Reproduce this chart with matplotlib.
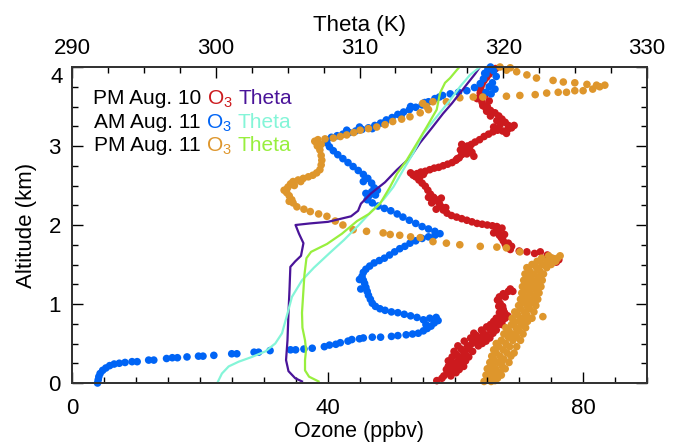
import matplotlib
matplotlib.use("Agg")
import matplotlib.pyplot as plt
from matplotlib.ticker import MultipleLocator, FuncFormatter
from matplotlib.transforms import blended_transform_factory
from matplotlib.offsetbox import TextArea, HPacker, AnnotationBbox

plt.rcParams["font.family"] = ["Liberation Sans", "DejaVu Sans"]
plt.rcParams["mathtext.fontset"] = "custom"
plt.rcParams["mathtext.rm"] = "Liberation Sans"
plt.rcParams["mathtext.it"] = "Liberation Sans"

# ---- ozone profiles (ppbv, km) ----
# PM Aug. 10 ozone (red)
red_pts = [
    (57.1, 0.03), (57.9, 0.06), (58.2, 0.09), (59.3, 0.09), (58.8, 0.13), (60.1, 0.13),
    (59.4, 0.17), (58.6, 0.17), (60.6, 0.17), (58.9, 0.21), (60.2, 0.21), (61.3, 0.21),
    (59.6, 0.25), (61.0, 0.25), (58.9, 0.28), (60.4, 0.28), (61.6, 0.28), (59.5, 0.33),
    (60.9, 0.33), (62.1, 0.33), (60.2, 0.36), (61.6, 0.36), (59.8, 0.40), (61.3, 0.40),
    (62.7, 0.40), (60.9, 0.43), (62.2, 0.43), (60.4, 0.47), (61.9, 0.47), (63.6, 0.47),
    (62.6, 0.50), (64.2, 0.50), (61.4, 0.53), (63.3, 0.53), (64.8, 0.53), (62.4, 0.57),
    (64.0, 0.57), (65.4, 0.57), (63.3, 0.60), (64.9, 0.60), (62.9, 0.63), (64.4, 0.63),
    (65.9, 0.63), (64.1, 0.67), (65.5, 0.67), (66.4, 0.67), (64.9, 0.71), (66.1, 0.71),
    (65.5, 0.74), (66.7, 0.74), (67.3, 0.74), (66.0, 0.78), (67.3, 0.78), (66.4, 0.82),
    (67.8, 0.82), (67.2, 0.85), (68.2, 0.85), (66.9, 0.89), (67.7, 0.89), (67.5, 0.93),
    (66.8, 0.97), (67.4, 0.97), (67.0, 1.01), (66.6, 1.05), (66.9, 1.09), (67.8, 1.09),
    (67.5, 1.13), (68.3, 1.16), (69.0, 1.16), (68.6, 1.19),
    (76.2, 1.56), (75.8, 1.53), (75.3, 1.57), (74.8, 1.59), (74.4, 1.62), (73.3, 1.66), (72.4, 1.64),
    (71.2, 1.66), (70.0, 1.67), (68.6, 1.69), (68.0, 1.72), (68.8, 1.73), (67.8, 1.76), (68.3, 1.77),
    (67.5, 1.80), (67.2, 1.84), (66.9, 1.87), (67.7, 1.88), (66.0, 1.90), (66.7, 1.91), (66.5, 1.95),
    (66.5, 1.98), (67.3, 1.96), (65.8, 1.99), (65.0, 2.00), (64.2, 2.01), (63.4, 2.02), (62.6, 2.04),
    (61.8, 2.06), (61.0, 2.08), (60.2, 2.10), (59.4, 2.12), (58.7, 2.15), (58.1, 2.19), (57.0, 2.20),
    (57.8, 2.23), (57.5, 2.27), (56.3, 2.28), (57.0, 2.31), (57.8, 2.34), (56.6, 2.35), (55.8, 2.35),
    (56.1, 2.39), (56.8, 2.33), (58.5, 2.22), (55.7, 2.44), (55.3, 2.49), (54.8, 2.53), (54.3, 2.57),
    (53.8, 2.61), (54.4, 2.60), (53.4, 2.63), (55.0, 2.64), (54.0, 2.65), (53.0, 2.66), (54.6, 2.67),
    (55.3, 2.68), (56.0, 2.70), (56.7, 2.72), (57.4, 2.73), (58.1, 2.75), (58.8, 2.77), (59.5, 2.79),
    (60.1, 2.82), (60.3, 2.84), (60.6, 2.85), (61.0, 2.89), (61.8, 2.90), (61.3, 2.93), (61.5, 2.97),
    (62.2, 2.97), (61.9, 3.00), (61.0, 3.02), (62.6, 2.92), (62.9, 2.87), (60.8, 2.95), (62.5, 3.02),
    (63.1, 3.05), (63.8, 3.08), (64.5, 3.12), (65.2, 3.15), (68.0, 3.16), (65.9, 3.18), (66.6, 3.20),
    (67.4, 3.19), (68.2, 3.21), (66.0, 3.24), (68.8, 3.23), (69.2, 3.26), (67.0, 3.27), (68.3, 3.26),
    (67.8, 3.30), (66.5, 3.32), (67.3, 3.34), (66.8, 3.38), (65.5, 3.38), (66.2, 3.42), (65.5, 3.45),
    (64.8, 3.48), (64.9, 3.44), (65.0, 3.50), (64.3, 3.51), (64.2, 3.55), (65.3, 3.57), (64.0, 3.59),
    (63.4, 3.60), (63.9, 3.63), (64.6, 3.64), (63.9, 3.67), (63.9, 3.71), (64.0, 3.75), (64.2, 3.79),
    (64.5, 3.83), (64.9, 3.87), (64.8, 3.92), (65.3, 3.91), (65.8, 3.95), (66.3, 3.98),
]

# AM Aug. 11 ozone (blue)
blue_pts = [
    (4.0, 0.00), (4.1, 0.04), (4.2, 0.08), (4.4, 0.12), (4.8, 0.16), (5.3, 0.19), (5.9, 0.22),
    (6.6, 0.24), (7.4, 0.25), (8.3, 0.26), (9.4, 0.27), (10.2, 0.27), (12.0, 0.29), (12.8, 0.29),
    (14.8, 0.31), (15.7, 0.32), (16.5, 0.32), (18.0, 0.33), (19.8, 0.34), (20.5, 0.34), (22.2, 0.35),
    (25.0, 0.37), (25.8, 0.37), (28.5, 0.39), (29.2, 0.39), (31.0, 0.41), (34.2, 0.42), (35.0, 0.42),
    (36.3, 0.43), (37.6, 0.44), (39.5, 0.46), (40.3, 0.48), (41.3, 0.49), (42.0, 0.51), (43.2, 0.53),
    (43.8, 0.55), (45.0, 0.56), (45.6, 0.57), (47.0, 0.58), (48.3, 0.58), (50.0, 0.59), (51.0, 0.60),
    (52.3, 0.61), (53.3, 0.62), (54.2, 0.63), (55.0, 0.66), (55.6, 0.69), (56.2, 0.72), (56.7, 0.76),
    (57.3, 0.79), (57.0, 0.83), (56.0, 0.82), (55.4, 0.74), (55.0, 0.80), (54.0, 0.83), (53.0, 0.85),
    (52.0, 0.87), (51.0, 0.89), (50.0, 0.90), (49.0, 0.92), (48.2, 0.94), (47.5, 0.97), (47.0, 1.01),
    (46.7, 1.06), (46.4, 1.11), (46.2, 1.16), (45.2, 1.19), (46.0, 1.21), (45.8, 1.26), (45.0, 1.31),
    (45.6, 1.30), (45.4, 1.35), (45.6, 1.40), (46.0, 1.44), (46.6, 1.48), (47.3, 1.52), (48.1, 1.55),
    (48.9, 1.58), (49.7, 1.62), (50.5, 1.66), (51.3, 1.70), (52.1, 1.73), (52.9, 1.77), (53.8, 1.80),
    (54.8, 1.83), (55.8, 1.85), (56.8, 1.87), (57.6, 1.89), (56.8, 1.92), (55.8, 1.95), (54.8, 1.98),
    (53.8, 2.02), (52.8, 2.06), (51.8, 2.10), (50.9, 2.14), (49.9, 2.18), (48.9, 2.21), (47.9, 2.24),
    (47.0, 2.28), (46.2, 2.32), (46.5, 2.37), (47.5, 2.38), (46.0, 2.40), (46.9, 2.42), (47.8, 2.44),
    (47.3, 2.47), (46.9, 2.53), (45.6, 2.55), (46.3, 2.59), (45.6, 2.64), (44.8, 2.69), (44.0, 2.74),
    (43.2, 2.79), (42.4, 2.84), (41.6, 2.89), (40.9, 2.94), (40.3, 2.99), (39.9, 3.04), (39.8, 3.08),
    (40.6, 3.11), (41.5, 3.13), (42.4, 3.15), (43.4, 3.17), (43.0, 3.20), (44.4, 3.19), (45.0, 3.24),
    (45.4, 3.21), (46.4, 3.23), (47.0, 3.22), (47.4, 3.26), (48.3, 3.29), (49.0, 3.30), (49.2, 3.33),
    (50.1, 3.36), (51.0, 3.40), (51.5, 3.38), (51.9, 3.43), (52.8, 3.46), (53.0, 3.50), (53.8, 3.49),
    (54.8, 3.52), (55.2, 3.55), (55.8, 3.56), (56.8, 3.60), (57.5, 3.62), (58.0, 3.64), (59.2, 3.66),
    (60.5, 3.68), (61.8, 3.70), (63.0, 3.74), (63.9, 3.79), (64.4, 3.85), (64.8, 3.91), (65.1, 3.97),
    (65.5, 4.00), (65.8, 3.80), (66.2, 3.72), (65.6, 3.66), (64.8, 3.68), (66.4, 3.88), (66.0, 3.95),
    (65.3, 3.75), (64.6, 3.92),
]

# PM Aug. 11 ozone (orange)
orange_pts = [
    (64.5, 0.02), (65.6, 0.02), (66.2, 0.03), (65.1, 0.06), (66.6, 0.06), (64.8, 0.10), (66.0, 0.10),
    (67.2, 0.10), (65.5, 0.14), (66.9, 0.14), (65.0, 0.18), (66.3, 0.18), (67.8, 0.18), (65.8, 0.22),
    (67.3, 0.22), (65.4, 0.26), (66.7, 0.26), (68.4, 0.26), (66.0, 0.30), (67.6, 0.30), (65.7, 0.34),
    (67.0, 0.34), (68.7, 0.34), (66.4, 0.38), (68.1, 0.38), (69.2, 0.38), (66.0, 0.42), (67.5, 0.42),
    (66.8, 0.46), (68.5, 0.46), (69.6, 0.46), (66.4, 0.50), (67.9, 0.50), (67.2, 0.54), (69.0, 0.54),
    (70.2, 0.54), (68.3, 0.58), (69.6, 0.58), (67.6, 0.62), (69.1, 0.62), (70.6, 0.62), (68.4, 0.66),
    (70.0, 0.66), (67.9, 0.70), (69.5, 0.70), (71.0, 0.70), (68.8, 0.74), (70.4, 0.74), (69.2, 0.78),
    (71.3, 0.78), (70.0, 0.78), (68.9, 0.82), (70.6, 0.82), (72.0, 0.82), (73.7, 0.84), (69.8, 0.86),
    (71.2, 0.86), (69.3, 0.90), (70.8, 0.90), (72.3, 0.90), (70.2, 0.94), (71.6, 0.94), (69.9, 0.98),
    (71.2, 0.98), (72.6, 0.98), (70.6, 1.02), (72.0, 1.02), (70.2, 1.06), (71.4, 1.06), (72.9, 1.06),
    (70.8, 1.10), (72.3, 1.10), (70.4, 1.14), (71.7, 1.14), (73.1, 1.14), (71.1, 1.18), (72.6, 1.18),
    (70.5, 1.22), (71.9, 1.22), (73.4, 1.22), (71.3, 1.26), (72.8, 1.26), (70.7, 1.30), (72.1, 1.30),
    (73.6, 1.30), (71.5, 1.34), (73.0, 1.34), (70.9, 1.38), (72.3, 1.38), (73.8, 1.38), (71.6, 1.42),
    (73.2, 1.42), (71.2, 1.46), (72.7, 1.46), (74.3, 1.46), (72.0, 1.50), (73.6, 1.50), (75.0, 1.50),
    (72.8, 1.54), (74.4, 1.54), (75.7, 1.54), (73.5, 1.58), (75.2, 1.58), (76.0, 1.58), (76.4, 1.61),
    (74.6, 1.61),
    (70.1, 1.66), (68.0, 1.71), (66.5, 1.72), (63.9, 1.73), (60.7, 1.75), (58.6, 1.77), (56.5, 1.79),
    (54.5, 1.84), (53.0, 1.85), (51.3, 1.87), (49.8, 1.88), (48.7, 1.90), (46.1, 1.92), (44.0, 1.94),
    (42.4, 2.00), (41.2, 2.05), (39.9, 2.11), (38.6, 2.14), (37.3, 2.17), (36.3, 2.20), (35.2, 2.23),
    (34.6, 2.28), (34.0, 2.30), (34.4, 2.32), (34.0, 2.37), (33.6, 2.41), (33.2, 2.44), (33.6, 2.45),
    (33.8, 2.48), (34.8, 2.50), (34.2, 2.52), (34.6, 2.55), (35.8, 2.55), (35.4, 2.57), (36.2, 2.59),
    (37.0, 2.61), (37.7, 2.63), (38.3, 2.66), (38.8, 2.70), (39.0, 2.76), (39.1, 2.82), (39.0, 2.88),
    (38.8, 2.95), (38.4, 3.00), (39.0, 3.02), (38.3, 3.04), (38.0, 3.06), (38.5, 3.08),
    (39.6, 3.09), (40.9, 3.10), (42.0, 3.12), (43.0, 3.14), (44.1, 3.17), (45.1, 3.20), (46.4, 3.22),
    (47.7, 3.24), (49.0, 3.27), (50.2, 3.31), (51.6, 3.34), (52.9, 3.37), (54.5, 3.42), (55.5, 3.50),
    (54.9, 3.54), (55.8, 3.46), (56.5, 3.56), (58.6, 3.56), (60.7, 3.61), (62.8, 3.62), (64.3, 3.62),
    (68.0, 3.63), (70.1, 3.64), (72.5, 3.65), (74.3, 3.67), (76.1, 3.68), (77.4, 3.68), (78.7, 3.70),
    (80.0, 3.70), (81.5, 3.72), (82.6, 3.75), (83.4, 3.77), (82.1, 3.77), (80.6, 3.78), (78.7, 3.80),
    (76.9, 3.81), (75.3, 3.83), (72.7, 3.86), (71.2, 3.90), (69.6, 3.94), (68.6, 3.99), (68.0, 3.96),
    (67.0, 4.00),
]

# ---- potential temperature profiles (K, km) ----
purple_theta = [306.0, 305.53, 305.06, 304.89, 304.99, 305.06, 305.13, 305.19, 305.53, 305.93,
                306.10, 305.79, 305.55, 306.56, 307.81, 309.41, 309.90, 310.10, 310.80, 311.77,
                312.61, 313.51, 314.21, 315.04, 315.81, 316.43, 316.99, 317.55, 318.03, 318.38]
purple_alt = [0.02, 0.06, 0.15, 0.29, 0.54, 0.89, 1.18, 1.47, 1.54, 1.61,
              1.77, 1.89, 2.00, 2.02, 2.04, 2.11, 2.18, 2.27, 2.40, 2.54,
              2.70, 2.85, 3.04, 3.23, 3.41, 3.54, 3.67, 3.80, 3.91, 4.00]

cyan_theta = [300.16, 300.43, 300.90, 301.60, 302.52, 303.45, 304.14, 304.61, 304.96, 305.30,
              306.00, 306.83, 307.95, 308.92, 309.90, 310.87, 311.66, 312.35, 313.05, 313.74,
              314.44, 315.37, 316.30, 316.99, 317.69, 318.38]
cyan_alt = [0.02, 0.12, 0.21, 0.27, 0.33, 0.40, 0.50, 0.63, 0.86, 1.09,
            1.30, 1.46, 1.65, 1.81, 1.99, 2.18, 2.32, 2.48, 2.70, 2.91,
            3.16, 3.37, 3.58, 3.75, 3.90, 4.00]

green_theta = [307.15, 306.49, 306.21, 306.21, 306.28, 306.21, 306.03, 306.00, 306.07, 306.17,
               306.31, 306.63, 307.74, 308.78, 309.83, 310.66, 311.43, 312.12, 312.61, 313.28,
               313.98, 314.67, 315.37, 315.60, 315.95, 316.30, 316.76, 317.0]
green_alt = [0.02, 0.08, 0.16, 0.29, 0.42, 0.54, 0.70, 0.89, 1.09, 1.37,
             1.58, 1.66, 1.76, 1.89, 2.05, 2.14, 2.27, 2.48, 2.65, 2.82,
             3.03, 3.24, 3.46, 3.67, 3.80, 3.86, 3.96, 4.01]

RED, BLUE, ORANGE = "#cc1a1e", "#0064f5", "#de962c"
PURPLE, CYAN, GREEN = "#4a1499", "#84f5d8", "#98ef3e"

fig = plt.figure(figsize=(6.82, 4.45), dpi=100)
ax = fig.add_axes([72 / 682, 62 / 445, 575 / 682, 316 / 445])
ax2 = ax.twiny()

for pts, c in [(red_pts, RED), (blue_pts, BLUE), (orange_pts, ORANGE)]:
    xs, ys = zip(*pts)
    ax.scatter(xs, ys, s=30, color=c, edgecolors="none", clip_on=False)

ax2.plot(purple_theta, purple_alt, color=PURPLE, lw=1.6)
ax2.plot(cyan_theta, cyan_alt, color=CYAN, lw=1.6)
ax2.plot(green_theta, green_alt, color=GREEN, lw=1.6)

ax.set_xlim(0, 90)
ax.set_ylim(0, 4)
ax2.set_xlim(290, 330)

ax.xaxis.set_major_locator(MultipleLocator(40))
ax.xaxis.set_minor_locator(MultipleLocator(5))
ax.yaxis.set_major_locator(MultipleLocator(1))
ax.yaxis.set_minor_locator(MultipleLocator(0.25))
ax2.xaxis.set_major_locator(MultipleLocator(10))
ax2.xaxis.set_minor_locator(MultipleLocator(2.5))
# top label "4" is drawn separately, pushed below the corner as in the original
ax.yaxis.set_major_formatter(FuncFormatter(lambda v, p: "" if v >= 4 else f"{v:.0f}"))

ax.tick_params(which="both", direction="in", right=True, top=False, labelsize=16, width=1.0)
ax.tick_params(which="major", length=8)
ax.tick_params(which="minor", length=4)
ax.tick_params(axis="x", pad=11)
ax.tick_params(axis="y", pad=8)
ax2.tick_params(which="both", direction="in", labelsize=16, width=1.0, pad=6)
ax2.tick_params(which="major", length=8)
ax2.tick_params(which="minor", length=4)

for a in (ax, ax2):
    for sp in a.spines.values():
        sp.set_linewidth(1.3)
        sp.set_color("#333333")

trans = blended_transform_factory(ax.transAxes, ax.transData)
ax.text(-0.0165, 4, "4", transform=trans, ha="right", va="top", fontsize=16)

ax.set_xlabel("Ozone (ppbv)", fontsize=15.5, labelpad=1)
ax.set_ylabel("Altitude (km)", fontsize=16, labelpad=8)
ax2.set_xlabel("Theta (K)", fontsize=16, labelpad=5)

rows = [("PM Aug. 10", RED, PURPLE, 0.899),
        ("AM Aug. 11", BLUE, CYAN, 0.823),
        ("PM Aug. 11", ORANGE, GREEN, 0.750)]
for name, c1, c2, yf in rows:
    box = HPacker(children=[TextArea(name, textprops=dict(color="black", size=15)),
                            TextArea("O$_3$", textprops=dict(color=c1, size=15)),
                            TextArea("Theta", textprops=dict(color=c2, size=15))],
                  align="baseline", pad=0, sep=4)
    ab = AnnotationBbox(box, (0.21, yf), xycoords="axes fraction", frameon=False,
                        box_alignment=(0.5, 0.5), pad=0)
    ax.add_artist(ab)

fig.savefig("out.png", dpi=100)
